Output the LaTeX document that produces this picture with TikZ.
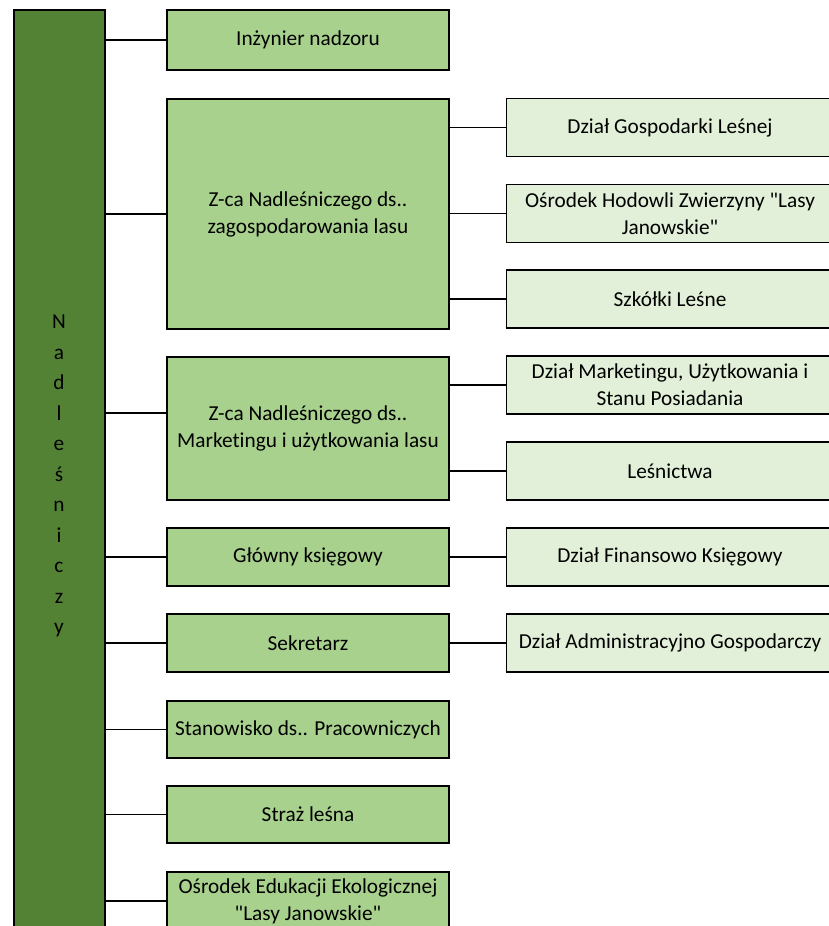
\documentclass[tikz,border=0pt]{standalone}
\usepackage{fontspec}
\setmainfont{Carlito}[Ligatures={NoCommon}]
\definecolor{darkg}{HTML}{548235}
\definecolor{midg}{HTML}{A9D18E}
\definecolor{lightg}{HTML}{E2F0D9}
\newcommand{\dq}{\textquotedbl}
\begin{document}
\begin{tikzpicture}[x=1pt,y=-1pt,
  every node/.style={inner sep=0pt, outer sep=0pt, font=\fontsize{21.3}{27}\selectfont, align=center, text=black},
  box/.style={draw=black, line width=1.6pt, rectangle},
  midbox/.style={box, fill=midg, minimum width=282pt},
  rightbox/.style={box, fill=lightg, minimum width=327pt, minimum height=58pt},
  link/.style={draw=black, line width=1.6pt}]
\useasboundingbox (0,0) rectangle (828,926);
\node[box, fill=darkg, minimum width=91pt, minimum height=930pt] (bar) at (59.5,475) {};
\node[font=\fontsize{21.3}{30.5}\selectfont] (barlbl) at (59,476) {N\\a\\d\\l\\e\\ś\\n\\i\\c\\z\\y};
% middle column
\node[midbox, minimum height=60pt] (inz) at (308,40) {Inżynier nadzoru};
\node[midbox, minimum height=230pt] (zag) at (308,214) {Z-ca Nadleśniczego ds..\\zagospodarowania lasu};
\node[midbox, minimum height=143pt] (mark) at (308,428.5) {Z-ca Nadleśniczego ds..\\Marketingu i użytkowania lasu};
\node[midbox, minimum height=58pt] (ksieg) at (308,557) {Główny księgowy};
\node[midbox, minimum height=58pt] (sekr) at (308,643) {Sekretarz};
\node[midbox, minimum height=57pt] (stan) at (308,729.5) {Stanowisko ds.. Pracowniczych};
\node[midbox, minimum height=57pt] (straz) at (308,814.5) {Straż leśna};
\node[midbox, minimum height=58pt] (edu) at (308,901) {Ośrodek Edukacji Ekologicznej\\\dq Lasy Janowskie\dq};
\coordinate (markin) at ([yshift=15.5pt]mark.west);
% right column
\node[rightbox] (gosp) at (670,127.5) {Dział Gospodarki Leśnej};
\node[rightbox] (hod) at (670,213.5) {Ośrodek Hodowli Zwierzyny \dq Lasy\\Janowskie\dq};
\node[rightbox] (szk) at (670,299) {Szkółki Leśne};
\node[rightbox] (dmark) at (670,385) {Dział Marketingu, Użytkowania i\\Stanu Posiadania};
\node[rightbox] (lesn) at (670,471) {Leśnictwa};
\node[rightbox] (fin) at (670,557) {Dział Finansowo Księgowy};
\node[rightbox] (adm) at (670,643) {Dział Administracyjno Gospodarczy};
% connectors from bar
\foreach \n in {inz,zag,ksieg,sekr,stan,straz,edu}
  \draw[link] (bar.east |- \n.west) -- (\n.west);
\draw[link] (bar.east |- markin) -- (markin);
% connectors to right column
\foreach \n in {gosp,hod,szk}
  \draw[link] (zag.east |- \n.west) -- (\n.west);
\foreach \n in {dmark,lesn}
  \draw[link] (mark.east |- \n.west) -- (\n.west);
\draw[link] (ksieg.east) -- (fin.west);
\draw[link] (sekr.east) -- (adm.west);
\end{tikzpicture}
\end{document}
